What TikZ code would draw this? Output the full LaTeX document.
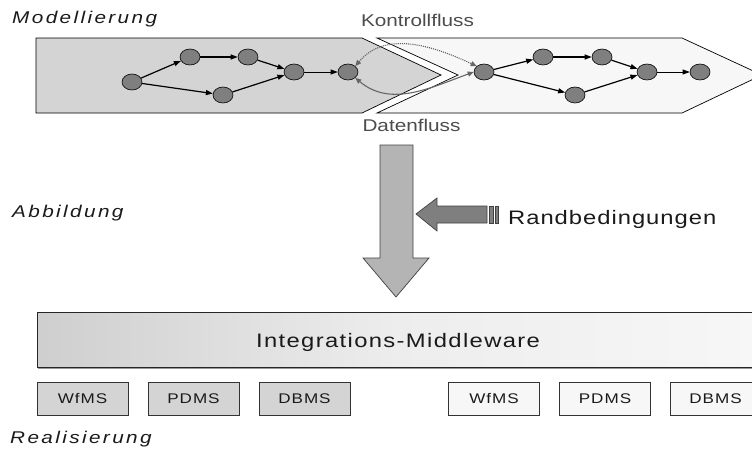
\documentclass[tikz,border=0pt]{standalone}
\usepackage{fontspec}
\usepackage{xcolor}
\usetikzlibrary{calc,positioning,arrows.meta,shapes.geometric}
\newfontfamily\diafont[FakeStretch=1.22]{Liberation Sans}
\definecolor{color_phase_left}{HTML}{d4d4d4}
\definecolor{color_phase_right}{HTML}{f7f7f7}
\definecolor{color_task}{HTML}{7f7f7f}
\definecolor{color_flow}{HTML}{666666}
\definecolor{color_map}{HTML}{b4b4b4}
\definecolor{color_text}{HTML}{1a1a1a}

\tikzset{
	task/.style={ellipse,draw=black,line width=0.6pt,fill=color_task,minimum width=20pt,minimum height=16pt,inner sep=0pt},
	seq/.style={line width=1.2pt,-{Triangle[length=7pt,width=5pt]}},
	seqthin/.style={line width=0.7pt,-{Triangle[length=7pt,width=5pt]}},
	crossflow/.style={color_flow,line width=1.1pt,{Triangle[length=6pt,width=5pt]}-{Triangle[length=6pt,width=5pt]}},
	phaselabel/.style={font=\diafont\itshape\fontsize{17}{20}\selectfont\addfontfeature{LetterSpace=14},text=color_text,anchor=base west,inner sep=0pt},
	flowlabel/.style={font=\diafont\fontsize{17}{19}\selectfont,text=black!70,anchor=base,inner sep=0pt},
	sysbox/.style={draw=black!80,line width=0.7pt,minimum width=91pt,minimum height=33pt,inner sep=0pt,
		font=\diafont\fontsize{14}{17}\selectfont\addfontfeature{LetterSpace=7},text=color_text},
}

\begin{document}
\begin{tikzpicture}[x=1pt,y=-1pt]
				\useasboundingbox (0, 0) rectangle (752, 450);
				\clip (0, 0) rectangle (752, 450);
				% Phases
				\draw[line width=0.7pt,fill=color_phase_left]
				(36, 38) --
				(362, 38) --
				(441, 75) --
				(362, 113) --
				(36, 113) --
				cycle;
				\draw[line width=0.7pt,fill=color_phase_right]
				(377, 38) --
				(682, 38) --
				(762, 75) --
				(682, 113) --
				(377, 113) --
				(458, 75) --
				cycle;
				
				% Tasks, left
				\node[task] (la) at (132, 82) {};
				\node[task] (lb) at (190, 57) {};
				\node[task] (lc) at (248, 57) {};
				\node[task] (ld) at (223, 95) {};
				\node[task] (le) at (294, 72) {};
				\node[task] (lf) at (348, 72) {};
				% Tasks, right
				\node[task] (ra) at (484, 72) {};
				\node[task] (rb) at (543, 57) {};
				\node[task] (rc) at (602, 57) {};
				\node[task] (rd) at (575, 95) {};
				\node[task] (re) at (647, 72) {};
				\node[task] (rf) at (700, 72) {};
				
				\foreach \p in {l,r} {
					\draw[seq] (\p a) -- (\p b);
					\draw[seq] (\p b) -- (\p c);
					\draw[seq] (\p c) -- (\p e);
					\draw[seq] (\p a) -- (\p d);
					\draw[seq] (\p d) -- (\p e);
					\draw[seqthin] (\p e) -- (\p f);
				}
				
				% Flows between the phases
				\draw[crossflow,densely dotted] (lf.north east) to[out=50,in=155] (ra.north west);
				\draw[crossflow] (lf.south east) to[out=-40,in=200] (ra.west);
				\node[flowlabel] (ctrl) at (417.5, 26.5) {Kontrollfluss};
				\node[flowlabel] (data) at (411.5, 131.5) {Datenfluss};
				
				% Mapping
				\draw[draw=black!75,line width=0.7pt,fill=color_map]
				(380, 145) --
				(413, 145) --
				(413, 258) --
				(429, 258) --
				(396, 297) --
				(363, 258) --
				(380, 258) --
				cycle;
				\draw[draw=black!75,line width=0.7pt,fill=color_task]
				(487, 206) --
				(437, 206) --
				(437, 198) --
				(416, 214) --
				(437, 231) --
				(437, 223) --
				(487, 223) --
				cycle;
				\draw[draw=black!75,line width=0.5pt,fill=color_task] (489, 206) rectangle (493, 223);
				\draw[draw=black!75,line width=0.5pt,fill=color_task] (495, 206) rectangle (498, 223);
				\node[font=\diafont\fontsize{19.5}{22}\selectfont\addfontfeature{LetterSpace=5},text=color_text,anchor=base west,inner sep=0pt]
					(cond) at (508, 224) {Randbedingungen};
				
				% Realisation
				\draw[draw=black!40,line width=2pt] (38, 368) -- (760, 368);
				\draw[draw=black!85,line width=0.7pt,left color=black!19,right color=color_phase_right,middle color=black!7]
				(37, 312) rectangle (760, 367);
				\node[font=\diafont\fontsize{19.5}{22}\selectfont\addfontfeature{LetterSpace=7},text=color_text,anchor=base,inner sep=0pt]
					(mw) at (398, 347.5) {Integrations-Middleware};
				
				\node[sysbox,fill=color_phase_left] (wfmsL) at (82.5, 398.5) {WfMS};
				\node[sysbox,fill=color_phase_left] (pdmsL) at (193.5, 398.5) {PDMS};
				\node[sysbox,fill=color_phase_left] (dbmsL) at (304.5, 398.5) {DBMS};
				\node[sysbox,fill=color_phase_right] (wfmsR) at (494, 398.5) {WfMS};
				\node[sysbox,fill=color_phase_right] (pdmsR) at (605, 398.5) {PDMS};
				\node[sysbox,fill=color_phase_right] (dbmsR) at (715.5, 398.5) {DBMS};
				
				% Levels
				\node[phaselabel] (lvlmodel) at (12, 23.5) {Modellierung};
				\node[phaselabel] (lvlmap) at (12, 217) {Abbildung};
				\node[phaselabel] (lvlreal) at (10, 443.5) {Realisierung};
			\end{tikzpicture}
\end{document}
